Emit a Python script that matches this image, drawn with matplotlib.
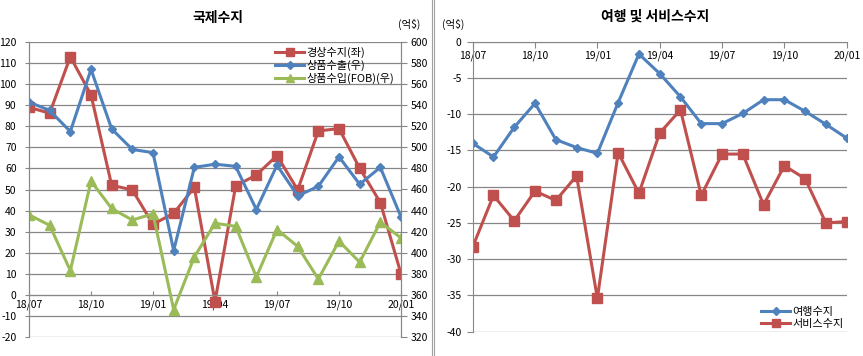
import matplotlib
matplotlib.use("Agg")
import matplotlib.pyplot as plt
from matplotlib.lines import Line2D

plt.rcParams['font.family'] = ['Noto Sans CJK KR', 'DejaVu Sans']
plt.rcParams['axes.unicode_minus'] = False

# data: monthly, 18/07 .. 20/01
months = list(range(19))
tick_pos = [0, 3, 6, 9, 12, 15, 18]
tick_labels = ["18/07", "18/10", "19/01", "19/04", "19/07", "19/10", "20/01"]

# left panel (억$)
current = [89, 86.2, 113, 94.9, 52, 49.8, 33.5, 38.7, 51, -3.2, 51.7, 56.9,
           66.1, 49.8, 77.8, 78.9, 60.1, 43.8, 10]            # left axis
exports = [543, 535, 515, 574, 517.5, 498, 495, 402, 481, 484, 482, 441,
           483, 454, 463, 491, 465, 481, 434]                  # right axis
imports = [436, 426, 383, 468, 442, 431, 437, 346, 396, 428, 425, 377,
           422, 406, 375, 411, 391, 429, 414]                  # right axis

# right panel (억$)
travel = [-14.0, -15.9, -11.8, -8.5, -13.5, -14.6, -15.4, -8.4, -1.7, -4.4,
          -7.6, -11.3, -11.3, -9.9, -8.0, -8.0, -9.6, -11.4, -13.3]
service = [-28.3, -21.2, -24.7, -20.6, -21.9, -18.5, -35.4, -15.3, -20.9, -12.6,
           -9.4, -21.2, -15.5, -15.5, -22.5, -17.1, -18.9, -25.0, -24.8]

RED = "#C0504D"
BLUE = "#4F81BD"
GREEN = "#9BBB59"
GRID = "#878787"
FS = 7.5

fig = plt.figure(figsize=(8.63, 3.56), dpi=100)

# ---- left panel ----
ax1 = fig.add_axes([29/863, 19/356, 372/863, 295/356])
ax2 = ax1.twinx()

ax1.plot(months, current, color=RED, lw=2.2, marker='s', ms=7, label="경상수지(좌)")
ax2.plot(months, exports, color=BLUE, lw=2.2, marker='D', ms=4.5, label="상품수출(우)")
ax2.plot(months, imports, color=GREEN, lw=2.2, marker='^', ms=7, label="상품수입(FOB)(우)")

ax1.set_xlim(0, 18)
ax1.set_ylim(-20, 120)
ax1.set_yticks(range(-20, 121, 10))
ax2.set_ylim(320, 600)
ax2.set_yticks(range(320, 601, 20))
ax1.set_xticks(tick_pos)
ax1.set_xticklabels(tick_labels)
ax1.grid(axis='y', color=GRID, lw=0.9)
ax1.set_axisbelow(True)

for a in (ax1, ax2):
    for s in a.spines.values():
        s.set_color(GRID)
    a.spines['top'].set_visible(False)
ax1.spines['bottom'].set_position(('data', 0))
ax2.spines['bottom'].set_visible(False)
ax1.tick_params(axis='x', direction='in', length=3, color=GRID, labelsize=FS, pad=3)
ax1.tick_params(axis='y', direction='out', length=3, color=GRID, labelsize=FS, pad=6)
ax2.tick_params(axis='y', direction='out', length=4, color=GRID, labelsize=FS, pad=3)

h1, l1 = ax1.get_legend_handles_labels()
h2, l2 = ax2.get_legend_handles_labels()
ax2.legend(h1 + h2, l1 + l2, loc='upper right', bbox_to_anchor=(1.0, 1.005),
           frameon=False, fontsize=8, handlelength=2.6, handletextpad=0.2,
           labelspacing=0.15, borderaxespad=0.2, markerscale=0.8)

fig.text(218/863, 1 - 18/356, "국제수지", ha='center', va='center',
         fontsize=10, fontweight='bold')
fig.text(409/863, 1 - 24/356, "(억$)", ha='center', va='center', fontsize=FS)

# ---- right panel ----
ax3 = fig.add_axes([472.7/863, 24.3/356, 374/863, 290/356])
ax3.plot(months, travel, color=BLUE, lw=2.2, marker='D', ms=4.5, label="여행수지")
ax3.plot(months, service, color=RED, lw=2.2, marker='s', ms=7, label="서비스수지")
ax3.set_xlim(0, 18)
ax3.set_ylim(-40, 0)
ax3.set_yticks(range(-40, 1, 5))
ax3.set_xticks(tick_pos)
ax3.set_xticklabels(tick_labels)
ax3.grid(axis='y', color=GRID, lw=0.9)
ax3.set_axisbelow(True)
for s in ax3.spines.values():
    s.set_color(GRID)
ax3.spines['top'].set_visible(False)
ax3.spines['right'].set_visible(False)
ax3.spines['bottom'].set_position(('data', 0))
ax3.tick_params(axis='x', direction='out', length=4, color=GRID, labelsize=FS, pad=2)
ax3.tick_params(axis='y', direction='out', length=4, color=GRID, labelsize=FS, pad=4)
ax3.legend(loc='lower right', bbox_to_anchor=(1.01, -0.012), frameon=False, fontsize=8,
           handlelength=2.6, handletextpad=0.2, labelspacing=0.15, borderaxespad=0.2,
           markerscale=0.8)

fig.text(655/863, 1 - 17/356, "여행 및 서비스수지", ha='center', va='center',
         fontsize=10, fontweight='bold')
fig.text(453/863, 1 - 24/356, "(억$)", ha='center', va='center', fontsize=FS)

# panel divider (double line)
for xp in (431.5, 434):
    fig.add_artist(Line2D([xp/863, xp/863], [0, 1], color="#A0A0A0", lw=0.8))

fig.savefig("out.png", dpi=100)
